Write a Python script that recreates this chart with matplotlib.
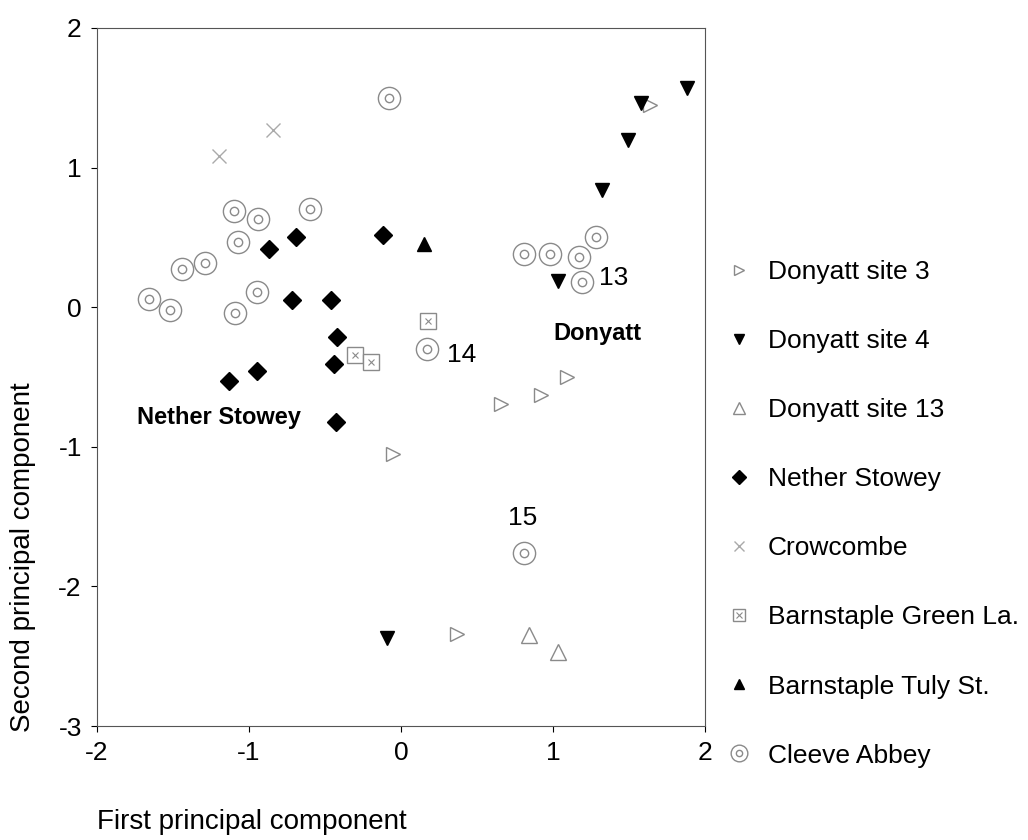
import matplotlib
matplotlib.use("Agg")
import matplotlib.pyplot as plt

plt.rcParams['font.family'] = ['Liberation Sans', 'DejaVu Sans']
plt.rcParams['axes.unicode_minus'] = False

# data
donyatt3_x = [1.64, 1.09, 0.92, 0.66, -0.05, 0.37]
donyatt3_y = [1.45, -0.50, -0.63, -0.69, -1.05, -2.34]

donyatt4_x = [1.88, 1.58, 1.49, 1.32, 1.03, -0.09]
donyatt4_y = [1.57, 1.46, 1.20, 0.84, 0.19, -2.37]

donyatt13_x = [0.84, 1.03]
donyatt13_y = [-2.35, -2.47]

nether_x = [-0.69, -0.12, -0.87, -0.72, -0.46, -0.42, -0.44, -0.95, -1.13, -0.43]
nether_y = [0.50, 0.52, 0.42, 0.05, 0.05, -0.21, -0.41, -0.46, -0.53, -0.82]

crow_x = [-0.84, -1.20]
crow_y = [1.27, 1.08]

green_x = [0.18, -0.30, -0.20]
green_y = [-0.10, -0.34, -0.39]

tuly_x = [0.15]
tuly_y = [0.45]

cleeve_x = [-0.08, -1.10, -0.94, -0.60, 1.28, -1.07, -1.29, -1.44, 0.81, 0.98,
            1.17, 1.19, -0.95, -1.66, -1.52, -1.09, 0.17, 0.81]
cleeve_y = [1.50, 0.69, 0.63, 0.70, 0.50, 0.47, 0.32, 0.27, 0.38, 0.38,
            0.36, 0.18, 0.11, 0.06, -0.02, -0.04, -0.30, -1.76]

gray = '#8a8a8a'

fig = plt.figure(figsize=(10.28, 8.4), dpi=100)
ax = fig.add_axes([0.0944, 0.1357, 0.5915, 0.831])

h3, = ax.plot(donyatt3_x, donyatt3_y, ls='none', marker='>', ms=10,
              mfc='white', mec=gray, mew=1.0)
h4, = ax.plot(donyatt4_x, donyatt4_y, ls='none', marker='v', ms=10,
              mfc='black', mec='black')
h13, = ax.plot(donyatt13_x, donyatt13_y, ls='none', marker='^', ms=11,
               mfc='white', mec=gray, mew=1.0)
hn, = ax.plot(nether_x, nether_y, ls='none', marker='D', ms=9,
              mfc='black', mec='black')
hc, = ax.plot(crow_x, crow_y, ls='none', marker='x', ms=10,
              mec='#aaaaaa', mew=1.0)
hg1, = ax.plot(green_x, green_y, ls='none', marker='s', ms=11,
               mfc='white', mec=gray, mew=1.0)
hg2, = ax.plot(green_x, green_y, ls='none', marker='x', ms=5,
               mec=gray, mew=0.8)
ht, = ax.plot(tuly_x, tuly_y, ls='none', marker='^', ms=10,
              mfc='black', mec='black')
hca, = ax.plot(cleeve_x, cleeve_y, ls='none', marker='o', ms=16,
               mfc='white', mec=gray, mew=1.0)
hcb, = ax.plot(cleeve_x, cleeve_y, ls='none', marker='o', ms=6,
               mfc='white', mec=gray, mew=1.0)

ax.text(1.30, 0.21, '13', fontsize=19, va='center', ha='left')
ax.text(0.40, -0.34, '14', fontsize=19, va='center', ha='center')
ax.text(0.80, -1.51, '15', fontsize=19, va='center', ha='center')
ax.text(1.29, -0.19, 'Donyatt', fontsize=17, fontweight='bold',
        va='center', ha='center')
ax.text(-1.20, -0.79, 'Nether Stowey', fontsize=17, fontweight='bold',
        va='center', ha='center')

ax.set_xlim(-2, 2)
ax.set_ylim(-3, 2)
ax.set_xticks([-2, -1, 0, 1, 2])
ax.set_yticks([-3, -2, -1, 0, 1, 2])
ax.tick_params(labelsize=19, direction='out', length=4, width=0.8, pad=7)
for s in ax.spines.values():
    s.set_linewidth(0.8)
    s.set_color('#555555')

labels = ['Donyatt site 3', 'Donyatt site 4', 'Donyatt site 13', 'Nether Stowey',
          'Crowcombe', 'Barnstaple Green La.', 'Barnstaple Tuly St.', 'Cleeve Abbey']
handles = [h3, h4, h13, hn, hc, (hg1, hg2), ht, (hca, hcb)]
leg = fig.legend(handles, labels, loc='upper left', bbox_to_anchor=(0.683, 0.719),
                 frameon=False, fontsize=19, labelspacing=1.71, handlelength=1.0,
                 handletextpad=0.6, markerscale=0.75)

fig.text(0.022, 0.337, 'Second principal component', rotation=90,
         fontsize=20, va='center', ha='center')
fig.text(0.094, 0.021, 'First principal component', fontsize=20,
         va='center', ha='left')

fig.savefig('out.png', dpi=100)
